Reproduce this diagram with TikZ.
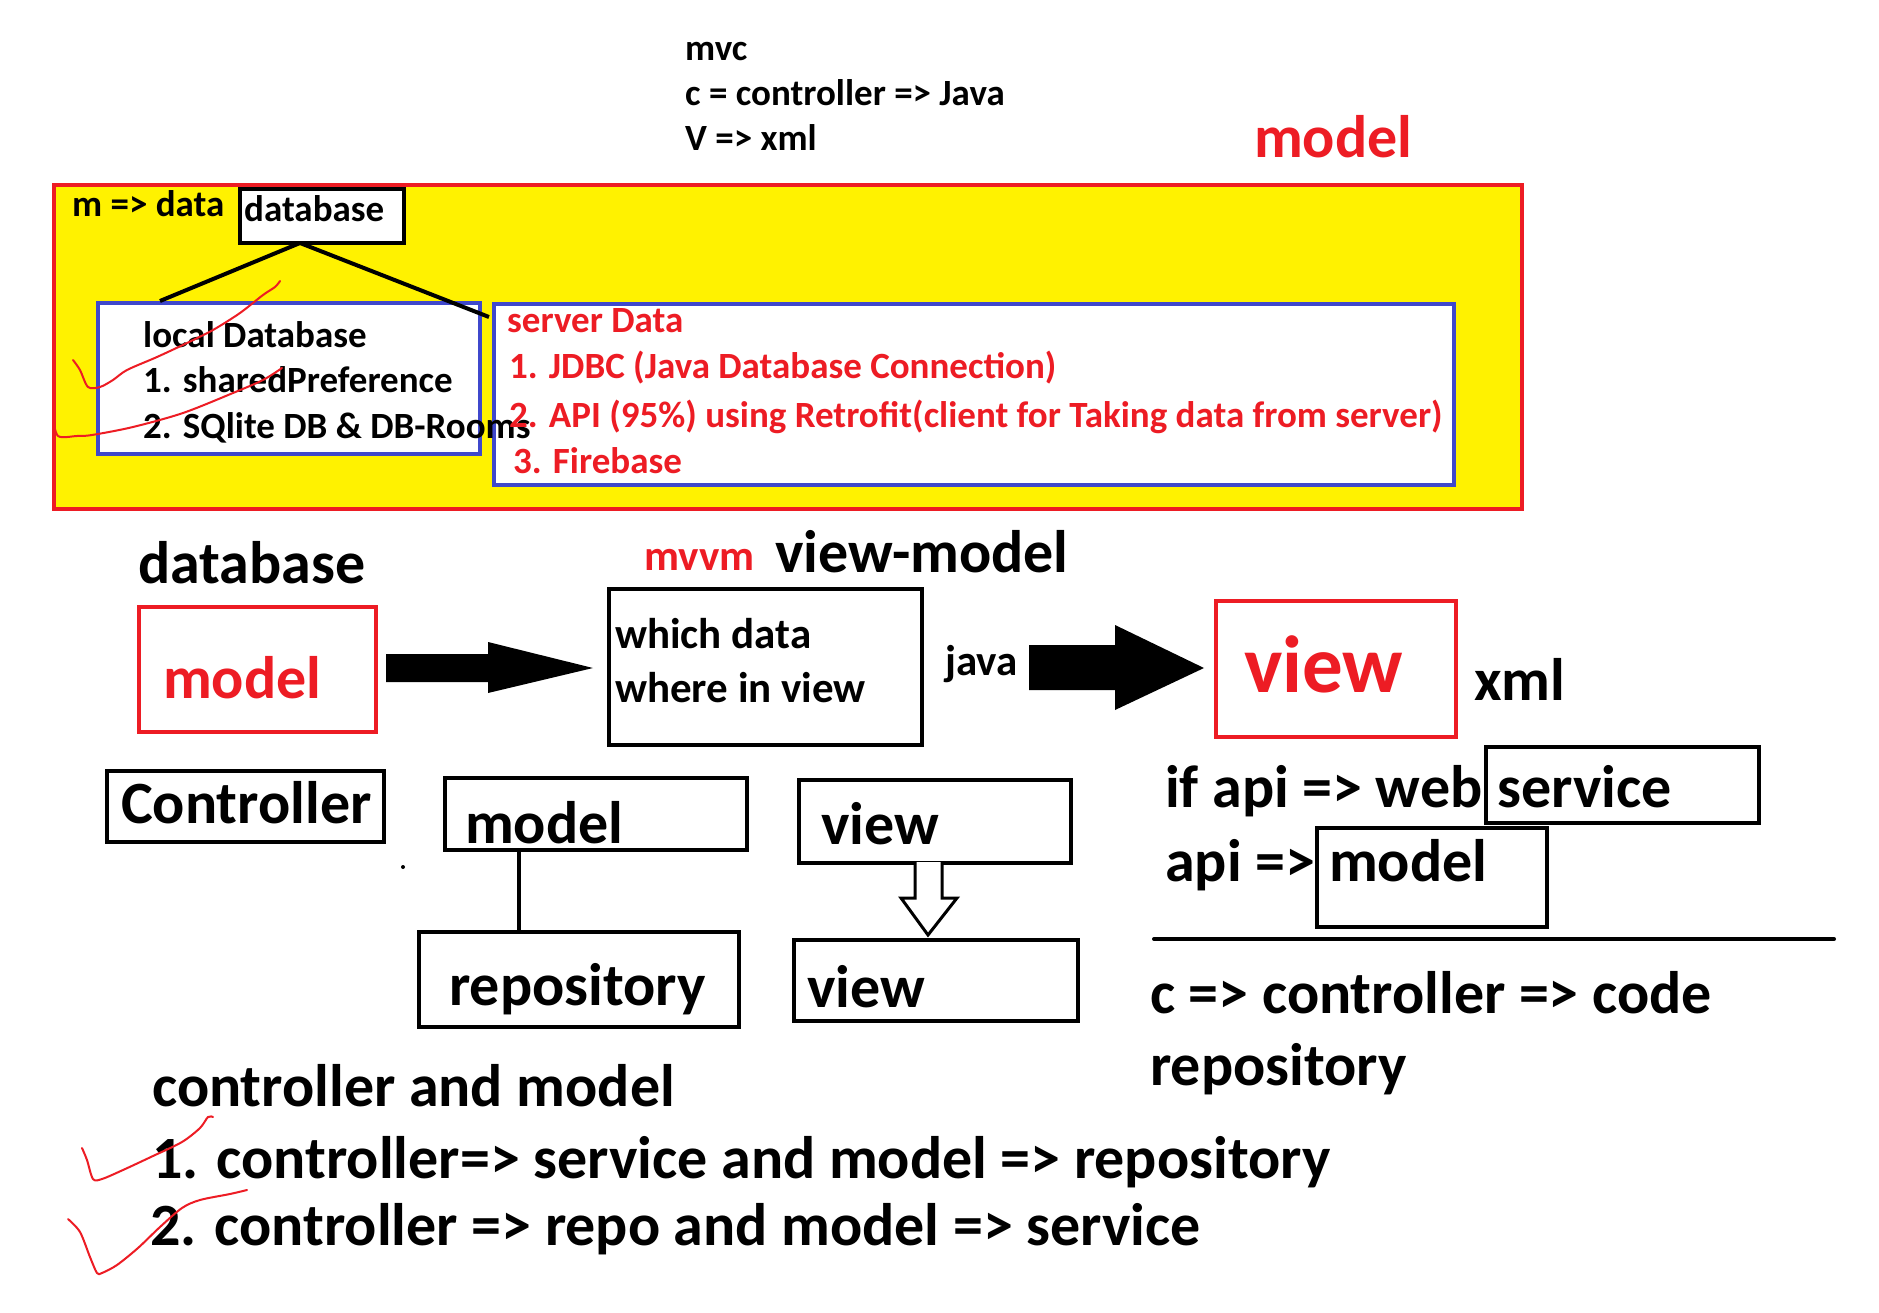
\documentclass[tikz,border=0pt]{standalone}
\usepackage{fontspec}
\setmainfont{Carlito}
\usetikzlibrary{calc}
\definecolor{pred}{RGB}{237,28,36}
\definecolor{pblue}{RGB}{63,72,204}
\definecolor{pyellow}{RGB}{255,242,0}

\begin{document}
\begin{tikzpicture}[x=1pt, y=-1pt,
    box/.style={rectangle, draw=black, line width=4pt, inner sep=0pt, anchor=north west},
    redbox/.style={box, draw=pred},
    bluebox/.style={box, draw=pblue, fill=white},
    sml/.style={inner sep=0pt, anchor=base west, font=\fontsize{37}{41}\selectfont\bfseries},
    med/.style={sml, font=\fontsize{43}{49}\selectfont\bfseries},
    big/.style={sml, font=\fontsize{60}{67}\selectfont\bfseries},
    conn/.style={line width=4pt},
    scrib/.style={pred, line width=2pt, line cap=round, line join=round}
  ]
    \fill[white] (0,0) rectangle (1879,1313);
    \useasboundingbox (0,0) rectangle (1879,1313);

    % mvc notes
    \node[sml] (mvc)   at (685,61)  {mvc};
    \node[sml] (cjava) at (685,106) {c = controller => Java};
    \node[sml] (vxml)  at (685,151) {V => xml};
    \node[big, text=pred] (mtitle) at (1254,158) {model};

    % model frame
    \node[redbox, fill=pyellow, minimum width=1468pt, minimum height=324pt] (frame) at (52,183) {};
    \node[sml] (mdata) at (72,217) {m => data};
    \node[box, fill=white, minimum width=164pt, minimum height=54pt] (dbbox) at (238,187) {};
    \node[sml] (dbtxt) at (244,222) {database};
    \node[bluebox, minimum width=382pt, minimum height=151pt] (localbox) at (96,301) {};
    \node[bluebox, minimum width=960pt, minimum height=181pt] (serverbox) at (492,302) {};
    \coordinate (dbfoot) at (300,243);
    \draw[conn] (dbfoot) -- ($(localbox.north west)+(64,0)$);
    \draw[conn] (dbfoot) -- ($(serverbox.north west)+(-3,15)$);

    % local data
    \node[sml] (loc0) at (143,348) {local Database};
    \node[sml] (loc1) at (143,392) {1. sharedPreference};
    \node[sml] (loc2) at (143,438) {2. SQlite DB \& DB-Rooms};

    % server data
    \node[sml, text=pred] (srv0) at (507,333) {server Data};
    \node[sml, text=pred] (srv1) at (509,378) {1. JDBC (Java Database Connection)};
    \node[sml, text=pred] (srv2) at (509,427) {2. API (95\%) using Retrofit(client for Taking data from server)};
    \node[sml, text=pred] (srv3) at (513,473) {3. Firebase};

    % red scribbles
    \draw[scrib] plot[smooth] coordinates {(73,360) (80,370) (88,387) (100,387) (113,380) (127,370)
      (157,357) (187,343) (213,330) (240,313) (263,295) (275,287) (280,281)};
    \draw[scrib] plot[smooth] coordinates {(53,417) (58,436) (77,436) (92,435) (133,427)
      (183,413) (233,393) (263,380) (282,368)};

    % mvvm row
    \node[big] (dbhead) at (138,583) {database};
    \node[redbox, minimum width=237pt, minimum height=125pt] (mdlbox) at (137,605) {};
    \node[big, text=pred] (mdltxt) at (163,698) {model};
    \fill (386,654) -- (488,654) -- (488,642) -- (593,668) -- (488,693) -- (488,682) -- (386,682) -- cycle;
    \node[med, text=pred] (mvvm) at (644,570) {mvvm};
    \node[big] (vmhead) at (775,572) {view-model};
    \node[box, minimum width=313pt, minimum height=156pt] (vmbox) at (607,587) {};
    \node[med] (vm1) at (615,648) {which data};
    \node[med] (vm2) at (615,702) {where in view};
    \node[med] (java) at (945,675) {java};
    \fill (1029,645) -- (1115,645) -- (1115,625) -- (1204,668) -- (1115,710) -- (1115,690) -- (1029,690) -- cycle;
    \node[redbox, minimum width=240pt, minimum height=136pt] (viewbox) at (1214,599) {};
    \node[sml, text=pred, font=\fontsize{81}{97}\selectfont\bfseries] (viewtxt) at (1244,692) {view};
    \node[big] (xml) at (1474,700) {xml};

    % controller, model, repository, view
    \node[box, minimum width=277pt, minimum height=71pt] (ctrlbox) at (105,769) {};
    \node[big] (ctrltxt) at (121,823) {Controller};
    \node[box, minimum width=302pt, minimum height=72pt] (modelbox) at (443,776) {};
    \node[big] (modeltxt) at (465,843) {model};
    \node[box, minimum width=320pt, minimum height=95pt] (repobox) at (417,930) {};
    \node[big] (repotxt) at (449,1005) {repository};
    \coordinate (mfoot) at ($(modelbox.south west)+(76,0)$);
    \draw[conn] (mfoot) -- (mfoot |- repobox.north);
    \fill (403,867) circle (2pt);
    \node[box, minimum width=272pt, minimum height=83pt] (viewa) at (797,778) {};
    \node[big] (viewatxt) at (821,844) {view};
    \node[box, minimum width=284pt, minimum height=81pt] (viewb) at (792,938) {};
    \node[big] (viewbtxt) at (807,1007) {view};
    \draw[fill=white, line width=3pt, line join=miter]
      (915,862) -- (915,898) -- (901,898) -- (928,935) -- (957,898) -- (942,898) -- (942,862);

    % api notes
    \node[box, minimum width=273pt, minimum height=76pt] (servbox) at (1484,745) {};
    \node[big] (ifapi) at (1165,807) {if api => web};
    \node[big] (servtxt) at (1497,807) {service};
    \node[box, minimum width=230pt, minimum height=99pt] (apimbox) at (1315,826) {};
    \node[big] (apitxt) at (1165,881) {api =>};
    \node[big] (apimtxt) at (1329,881) {model};
    \draw[line width=4pt, line cap=round] (1154,939) -- (1834,939);
    \node[big] (ccode) at (1150,1013) {c => controller => code};
    \node[big] (crepo) at (1150,1085) {repository};

    % controller and model
    \node[big] (cm0) at (152,1106) {controller and model};
    \node[big] (cm1) at (152,1178) {1. controller=> service and model => repository};
    \node[big] (cm2) at (150,1245) {2. controller => repo and model => service};
    \draw[scrib] plot[smooth] coordinates {(82,1148) (87,1160) (93,1179) (102,1179) (123,1170)
      (153,1156) (182,1142) (200,1128) (208,1117) (213,1117)};
    \draw[scrib] plot[smooth] coordinates {(68,1219) (80,1232) (90,1257) (97,1273) (102,1273)
      (117,1265) (138,1248) (160,1227) (182,1208) (200,1200) (230,1194) (247,1190)};
\end{tikzpicture}
\end{document}
